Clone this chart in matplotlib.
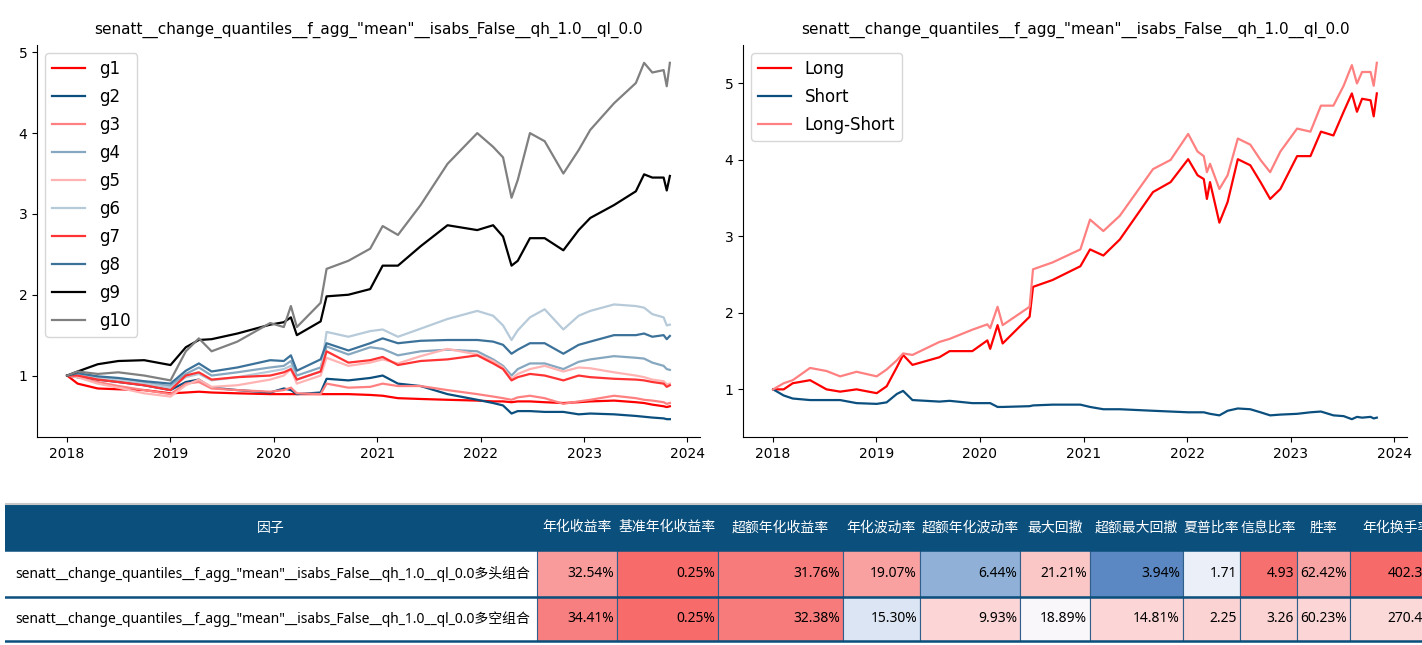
import matplotlib
matplotlib.use('Agg')
import matplotlib.pyplot as plt
import matplotlib.dates as mdates
import pandas as pd
from matplotlib.patches import Rectangle

TITLE = 'senatt__change_quantiles__f_agg_"mean"__isabs_False__qh_1.0__ql_0.0'

dates_left = ['2018-01-02', '2018-02-08', '2018-04-20', '2018-07-02', '2018-10-01',
              '2019-01-02', '2019-02-25', '2019-04-12', '2019-05-27', '2019-08-26',
              '2019-12-20', '2020-02-06', '2020-03-02', '2020-03-23', '2020-06-15',
              '2020-07-06', '2020-09-21', '2020-12-07', '2021-01-20', '2021-03-15',
              '2021-06-03', '2021-09-06', '2021-12-20', '2022-02-14', '2022-03-21',
              '2022-04-20', '2022-05-12', '2022-06-24', '2022-08-15', '2022-10-20',
              '2022-12-13', '2023-01-23', '2023-04-17', '2023-07-03', '2023-08-01',
              '2023-08-30', '2023-10-09', '2023-10-20', '2023-10-31']

g1 = [1.00, 0.90, 0.84, 0.83, 0.82, 0.78, 0.79, 0.80, 0.79, 0.78, 0.77, 0.77, 0.77, 0.77,
      0.77, 0.77, 0.77, 0.76, 0.75, 0.72, 0.71, 0.70, 0.69, 0.68, 0.68, 0.67, 0.68, 0.68,
      0.67, 0.66, 0.67, 0.68, 0.69, 0.67, 0.66, 0.64, 0.62, 0.61, 0.62]
g2 = [1.00, 0.98, 0.95, 0.92, 0.88, 0.82, 0.92, 0.95, 0.85, 0.82, 0.79, 0.84, 0.82, 0.77,
      0.79, 0.96, 0.94, 0.97, 1.00, 0.90, 0.87, 0.77, 0.70, 0.66, 0.63, 0.53, 0.56, 0.56,
      0.55, 0.55, 0.52, 0.53, 0.52, 0.50, 0.49, 0.48, 0.47, 0.46, 0.46]
g3 = [1.00, 0.98, 0.92, 0.87, 0.82, 0.77, 0.90, 0.92, 0.84, 0.82, 0.80, 0.82, 0.85, 0.78,
      0.77, 0.90, 0.85, 0.86, 0.90, 0.87, 0.87, 0.82, 0.77, 0.74, 0.72, 0.70, 0.73, 0.75,
      0.72, 0.65, 0.68, 0.70, 0.75, 0.72, 0.70, 0.69, 0.67, 0.65, 0.66]
g4 = [1.00, 1.02, 0.98, 0.95, 0.91, 0.87, 1.02, 1.10, 1.00, 1.04, 1.10, 1.12, 1.18, 1.00,
      1.10, 1.36, 1.26, 1.35, 1.33, 1.25, 1.30, 1.32, 1.30, 1.20, 1.12, 1.00, 1.08, 1.15,
      1.15, 1.08, 1.17, 1.20, 1.24, 1.22, 1.21, 1.16, 1.12, 1.08, 1.07]
g5 = [1.00, 0.98, 0.90, 0.85, 0.78, 0.74, 0.88, 0.95, 0.86, 0.88, 0.95, 1.00, 1.08, 0.90,
      1.00, 1.22, 1.12, 1.16, 1.20, 1.15, 1.24, 1.33, 1.26, 1.18, 1.10, 0.96, 1.02, 1.08,
      1.12, 1.05, 1.10, 1.09, 1.04, 1.00, 0.98, 0.95, 0.93, 0.89, 0.90]
g6 = [1.00, 1.02, 0.97, 0.95, 0.90, 0.85, 0.98, 1.02, 0.94, 0.98, 1.05, 1.08, 1.12, 0.95,
      1.05, 1.54, 1.48, 1.55, 1.57, 1.48, 1.58, 1.70, 1.80, 1.74, 1.62, 1.44, 1.56, 1.72,
      1.82, 1.57, 1.74, 1.80, 1.88, 1.86, 1.84, 1.76, 1.72, 1.62, 1.63]
g7 = [1.00, 1.00, 0.95, 0.92, 0.88, 0.82, 1.00, 1.04, 0.95, 0.98, 1.00, 1.04, 1.08, 0.95,
      1.05, 1.30, 1.16, 1.19, 1.23, 1.13, 1.18, 1.20, 1.25, 1.15, 1.08, 0.94, 0.98, 1.02,
      1.00, 0.94, 1.00, 0.98, 0.96, 0.95, 0.94, 0.92, 0.90, 0.86, 0.88]
g8 = [1.00, 1.03, 0.99, 0.97, 0.93, 0.90, 1.06, 1.15, 1.05, 1.10, 1.19, 1.18, 1.25, 1.06,
      1.20, 1.40, 1.31, 1.40, 1.46, 1.40, 1.43, 1.44, 1.44, 1.42, 1.38, 1.27, 1.32, 1.40,
      1.40, 1.27, 1.38, 1.42, 1.50, 1.50, 1.52, 1.48, 1.50, 1.45, 1.49]
g9 = [1.00, 1.05, 1.14, 1.18, 1.19, 1.13, 1.35, 1.44, 1.45, 1.52, 1.63, 1.66, 1.72, 1.50,
      1.67, 1.98, 2.00, 2.07, 2.36, 2.36, 2.60, 2.86, 2.80, 2.86, 2.72, 2.36, 2.42, 2.70,
      2.70, 2.55, 2.80, 2.95, 3.11, 3.28, 3.49, 3.45, 3.45, 3.29, 3.47]
g10 = [1.00, 1.05, 1.02, 1.04, 1.00, 0.94, 1.30, 1.46, 1.30, 1.42, 1.65, 1.60, 1.86, 1.60,
       1.90, 2.32, 2.42, 2.57, 2.85, 2.74, 3.11, 3.62, 4.00, 3.83, 3.70, 3.20, 3.42, 4.00,
       3.90, 3.50, 3.79, 4.04, 4.37, 4.62, 4.87, 4.75, 4.78, 4.58, 4.87]
group_names = ['g1', 'g2', 'g3', 'g4', 'g5', 'g6', 'g7', 'g8', 'g9', 'g10']

dates_right = ['2018-01-02', '2018-02-08', '2018-03-12', '2018-05-12', '2018-07-09',
               '2018-08-26', '2018-10-23', '2019-01-02', '2019-02-06', '2019-03-14',
               '2019-04-05', '2019-05-08', '2019-08-11', '2019-09-16', '2019-12-05',
               '2020-01-27', '2020-02-06', '2020-03-03', '2020-03-21', '2020-06-24',
               '2020-07-06', '2020-09-13', '2020-12-20', '2021-01-23', '2021-03-11',
               '2021-05-08', '2021-09-02', '2021-11-03', '2022-01-04', '2022-02-06',
               '2022-02-28', '2022-03-11', '2022-03-22', '2022-04-24', '2022-05-23',
               '2022-06-28', '2022-08-11', '2022-09-16', '2022-10-20', '2022-11-25',
               '2023-01-23', '2023-03-11', '2023-04-17', '2023-05-31', '2023-07-06',
               '2023-08-04', '2023-08-22', '2023-09-09', '2023-10-09', '2023-10-20',
               '2023-10-31']
long_vals = [1.00, 1.00, 1.08, 1.12, 1.00, 0.97, 1.00, 0.95, 1.04, 1.29, 1.45, 1.32, 1.42,
             1.50, 1.50, 1.64, 1.53, 1.84, 1.60, 1.95, 2.34, 2.43, 2.61, 2.83, 2.75, 2.96,
             3.58, 3.71, 4.01, 3.80, 3.75, 3.49, 3.71, 3.18, 3.45, 4.01, 3.93, 3.71, 3.49,
             3.62, 4.05, 4.05, 4.37, 4.32, 4.63, 4.87, 4.63, 4.80, 4.78, 4.57, 4.87]
short_vals = [1.00, 0.92, 0.88, 0.86, 0.86, 0.86, 0.82, 0.81, 0.83, 0.94, 0.98, 0.86, 0.84,
              0.85, 0.82, 0.82, 0.82, 0.77, 0.77, 0.78, 0.79, 0.80, 0.80, 0.77, 0.74, 0.74,
              0.72, 0.71, 0.70, 0.70, 0.70, 0.69, 0.68, 0.66, 0.72, 0.75, 0.74, 0.70, 0.66,
              0.67, 0.68, 0.70, 0.71, 0.66, 0.65, 0.61, 0.64, 0.63, 0.64, 0.62, 0.63]
long_short_vals = [1.00, 1.08, 1.12, 1.28, 1.24, 1.17, 1.23, 1.17, 1.26, 1.38, 1.47, 1.45,
                   1.62, 1.66, 1.78, 1.85, 1.80, 2.08, 1.84, 2.08, 2.57, 2.66, 2.83, 3.22,
                   3.07, 3.27, 3.88, 4.00, 4.34, 4.11, 4.05, 3.84, 3.95, 3.62, 3.80, 4.28,
                   4.20, 4.00, 3.84, 4.11, 4.41, 4.37, 4.71, 4.71, 4.97, 5.24, 5.00, 5.15,
                   5.15, 4.97, 5.27]

table_header = ['因子', '年化收益率', '基准年化收益率', '超额年化收益率', '年化波动率',
                '超额年化波动率', '最大回撤', '超额最大回撤', '夏普比率', '信息比率', '胜率',
                '年化换手率']
row_labels = [TITLE + '多头组合', TITLE + '多空组合']
row1_values = ['32.54%', '0.25%', '31.76%', '19.07%', '6.44%', '21.21%', '3.94%', '1.71',
               '4.93', '62.42%', '402.35%']
row2_values = ['34.41%', '0.25%', '32.38%', '15.30%', '9.93%', '18.89%', '14.81%', '2.25',
               '3.26', '60.23%', '270.45%']

# ---- styles ----
RED = '#ff0000'
BLUE = '#0b4f7f'
group_colors = ['#ff0000', '#0b4f7f', '#ff8080', '#85a7bf', '#ffb3b3', '#b6cad9',
                '#ff3333', '#3c7299', '#000000', '#808080']
row1_colors = ['#f99b9b', '#f76b6b', '#f77b7b', '#f9a1a1', '#90b0d8', '#fbc6c6', '#5b87c2',
               '#ebf0f8', '#f77070', '#f9a4a4', '#f76a6a']
row2_colors = ['#f77f7f', '#f76b6b', '#f77b7b', '#dce5f3', '#fcd6d6', '#faf7fa', '#fcd6d6',
               '#fcd3d3', '#fcd3d3', '#fcd6d6', '#fcd9d9']
HEADER_BG = '#0b4f7c'

W, H = 1422, 645
fig = plt.figure(figsize=(W / 100, H / 100), dpi=100)
fig.patch.set_facecolor('white')


def px_axes(x0, y0, x1, y1):
    return fig.add_axes([x0 / W, 1 - y1 / H, (x1 - x0) / W, (y1 - y0) / H])


ax1 = px_axes(37, 45, 700, 437)
ax2 = px_axes(743, 45, 1407, 437)

xl = pd.to_datetime(dates_left)
for name, vals, col in zip(group_names, [g1, g2, g3, g4, g5, g6, g7, g8, g9, g10], group_colors):
    ax1.plot(xl, vals, color=col, lw=1.6, label=name)

xr = pd.to_datetime(dates_right)
ax2.plot(xr, long_vals, color=RED, lw=1.6, label='Long')
ax2.plot(xr, short_vals, color=BLUE, lw=1.6, label='Short')
ax2.plot(xr, long_short_vals, color='#ff8080', lw=1.6, label='Long-Short')

for ax in (ax1, ax2):
    ax.spines['top'].set_visible(False)
    ax.spines['right'].set_visible(False)
    ax.xaxis.set_major_locator(mdates.YearLocator())
    ax.xaxis.set_major_formatter(mdates.DateFormatter('%Y'))
    ax.tick_params(labelsize=10)
    ax.set_title(TITLE, fontsize=11, pad=8)
    ax.legend(loc='upper left', fontsize=12, labelspacing=0.6, handlelength=2.0)

# ---- table ----
col_bounds = [5, 537, 617, 718, 843, 920, 1020, 1090, 1183, 1240, 1297, 1350, 1445]
row_bounds = [505, 550, 597, 641]
tax = px_axes(5, 500, 1445, 645)
tax.set_xlim(5, 1445)
tax.set_ylim(645, 500)
tax.axis('off')

latin_fam = ['Noto Sans', 'Noto Sans CJK SC', 'DejaVu Sans']
cjk_fam = ['Noto Sans CJK SC', 'DejaVu Sans']

tax.add_patch(Rectangle((col_bounds[0], row_bounds[0]), col_bounds[-1] - col_bounds[0],
                        row_bounds[1] - row_bounds[0], facecolor=HEADER_BG, edgecolor='none'))
tax.plot([col_bounds[0], col_bounds[-1]], [row_bounds[0] - 1.5] * 2, color='#c8c8c8', lw=1.5)
for i, h in enumerate(table_header):
    cx = (col_bounds[i] + col_bounds[i + 1]) / 2
    tax.text(cx, (row_bounds[0] + row_bounds[1]) / 2, h, color='white', fontsize=10,
             family=cjk_fam, ha='center', va='center')

for r, (lab, vals, cols) in enumerate(zip(row_labels, [row1_values, row2_values],
                                          [row1_colors, row2_colors])):
    y0, y1 = row_bounds[r + 1], row_bounds[r + 2]
    tax.add_patch(Rectangle((col_bounds[0], y0), col_bounds[1] - col_bounds[0], y1 - y0,
                            facecolor='white', edgecolor='none'))
    tax.text(col_bounds[0] + 10, (y0 + y1) / 2, lab, fontsize=10, family=latin_fam,
             ha='left', va='center', color='black')
    for j, (v, c) in enumerate(zip(vals, cols)):
        x0, x1 = col_bounds[j + 1], col_bounds[j + 2]
        tax.add_patch(Rectangle((x0, y0), x1 - x0, y1 - y0, facecolor=c,
                                edgecolor='#2f5f8a', lw=0.8))
        tax.text(x1 - 3, (y0 + y1) / 2, v, fontsize=10, family=latin_fam,
                 ha='right', va='center', color='black')

for yb in row_bounds[1:]:
    tax.plot([col_bounds[0], col_bounds[-1]], [yb, yb], color='#0b4f7c', lw=1.8)

fig.savefig('out.png', dpi=100)
